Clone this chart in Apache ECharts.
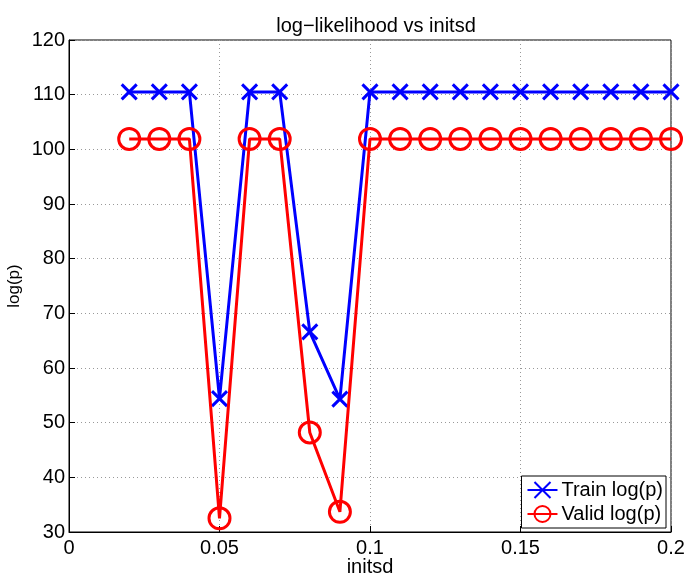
<!DOCTYPE html>
<html>
<head>
<meta charset="utf-8">
<script src="https://cdn.jsdelivr.net/npm/echarts@6/dist/echarts.min.js"></script>
<style>
  html, body { margin: 0; padding: 0; background: #fff; }
  #chart { width: 687px; height: 576px; }
</style>
</head>
<body>
<div id="chart"></div>
<script>
// initsd values tried
var initsd = [0.02, 0.03, 0.04, 0.05, 0.06, 0.07, 0.08, 0.09, 0.10, 0.11,
              0.12, 0.13, 0.14, 0.15, 0.16, 0.17, 0.18, 0.19, 0.20];
// log-likelihood on training set
var trainLogP = [110.5, 110.5, 110.5, 54.4, 110.5, 110.5, 66.6, 54.3, 110.5, 110.5,
                 110.5, 110.5, 110.5, 110.5, 110.5, 110.5, 110.5, 110.5, 110.5];
// log-likelihood on validation set
var validLogP = [101.9, 101.9, 101.9, 32.5, 101.9, 101.9, 48.2, 33.7, 101.9, 101.9,
                 101.9, 101.9, 101.9, 101.9, 101.9, 101.9, 101.9, 101.9, 101.9];

var FONT = '"Liberation Sans", Arial, sans-serif';

function pairs(xs, ys) {
  return xs.map(function (x, i) { return [x, ys[i]]; });
}

var chart = echarts.init(document.getElementById('chart'));
chart.setOption({
  animation: false,
  backgroundColor: '#fff',
  title: {
    text: 'log\u2212likelihood vs initsd',
    left: 371, top: 11, textAlign: 'center',
    textStyle: { fontFamily: FONT, fontSize: 20, fontWeight: 'normal', color: '#000' }
  },
  grid: {
    left: 69, right: 16, top: 40, bottom: 44,
    containLabel: false,
    outerBoundsMode: 'none',
    show: true, borderColor: '#000', borderWidth: 1, backgroundColor: '#fff'
  },
  legend: {
    right: 21, bottom: 48,
    orient: 'vertical',
    backgroundColor: '#fff',
    borderColor: '#000', borderWidth: 1,
    padding: [4, 3, 4, 5],
    itemGap: 4,
    itemWidth: 30, itemHeight: 20,
    textStyle: { fontFamily: FONT, fontSize: 20, color: '#000', padding: [0, 0, 0, -1] },
    data: ['Train log(p)', 'Valid log(p)']
  },
  xAxis: {
    type: 'value', min: 0, max: 0.2, interval: 0.05,
    name: 'initsd', nameLocation: 'middle', nameGap: 25, nameMoveOverlap: false,
    nameTextStyle: { fontFamily: FONT, fontSize: 20, color: '#000' },
    axisLine: { show: true, onZero: false, lineStyle: { color: '#000', width: 1 } },
    axisTick: { show: true, inside: true, length: 6, lineStyle: { color: '#000' } },
    axisLabel: { fontFamily: FONT, fontSize: 20, color: '#000', margin: 6 },
    splitLine: { show: true, lineStyle: { color: '#999', type: [1, 3], width: 1 } }
  },
  yAxis: {
    type: 'value', min: 30, max: 120, interval: 10,
    name: 'log(p)', nameLocation: 'middle', nameGap: 46, nameRotate: 90, nameMoveOverlap: false,
    nameTextStyle: { fontFamily: FONT, fontSize: 17, color: '#000' },
    axisLine: { show: true, onZero: false, lineStyle: { color: '#000', width: 1 } },
    axisTick: { show: true, inside: true, length: 6, lineStyle: { color: '#000' } },
    axisLabel: { fontFamily: FONT, fontSize: 20, color: '#000', margin: 4 },
    splitLine: { show: true, lineStyle: { color: '#999', type: [1, 3], width: 1 } }
  },
  series: [
    {
      name: 'Train log(p)',
      type: 'line',
      data: pairs(initsd, trainLogP),
      symbol: 'path://M0,0L10,10M10,0L0,10',
      symbolSize: 15,
      showAllSymbol: true,
      lineStyle: { color: '#0000ff', width: 3 },
      itemStyle: { color: '#0000ff', borderColor: '#0000ff', borderWidth: 3 },
      z: 3
    },
    {
      name: 'Valid log(p)',
      type: 'line',
      data: pairs(initsd, validLogP),
      symbol: 'circle',
      symbolSize: 21,
      showAllSymbol: true,
      lineStyle: { color: '#ff0000', width: 3 },
      itemStyle: { color: 'rgba(0,0,0,0)', borderColor: '#ff0000', borderWidth: 3 },
      z: 4
    }
  ]
});
</script>
</body>
</html>
